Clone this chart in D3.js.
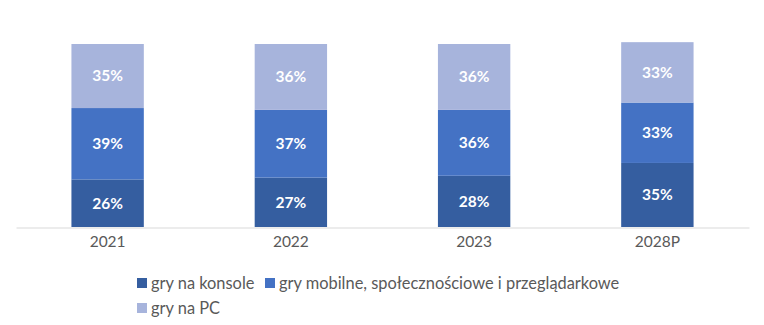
<!DOCTYPE html>
<html>
<head>
<meta charset="utf-8">
<script src="https://cdn.jsdelivr.net/npm/d3@7"></script>
<style>
  html, body { margin: 0; padding: 0; background: #fff; }
  svg { display: block; }
</style>
</head>
<body>
<svg id="chart" width="764" height="325"></svg>
<script>
// Market share by segment (%)
const years = ["2021", "2022", "2023", "2028P"];
const consoleShare = [26, 27, 28, 35];
const mobileShare = [39, 37, 36, 33];
const pcShare = [35, 36, 36, 33];
const seriesNames = ["gry na konsole", "gry mobilne, społecznościowe i przeglądarkowe", "gry na PC"];
const seriesColors = ["#355EA0", "#4472C4", "#A7B4DC"];

const svg = d3.select("#chart");
const font = "Lato, 'Open Sans', sans-serif";

const x = d3.scaleBand()
  .domain(years)
  .range([16, 749])
  .paddingInner(0.605)
  .paddingOuter(0.3025);

const y = d3.scaleLinear().domain([0, 100]).range([227, 44]);

const rows = years.map((yr, i) => ({ year: yr, s0: consoleShare[i], s1: mobileShare[i], s2: pcShare[i] }));
const stack = d3.stack().keys(["s0", "s1", "s2"]);
const layers = stack(rows);

const g = svg.append("g");
layers.forEach((layer, li) => {
  const lg = g.append("g");
  lg.selectAll("rect").data(layer).join("rect")
    .attr("x", d => x(d.data.year))
    .attr("width", x.bandwidth())
    .attr("y", d => y(d[1]))
    .attr("height", d => y(d[0]) - y(d[1]))
    .attr("fill", seriesColors[li]);
  lg.selectAll("text").data(layer).join("text")
    .attr("x", d => x(d.data.year) + x.bandwidth() / 2)
    .attr("y", d => (y(d[0]) + y(d[1])) / 2)
    .attr("dy", "0.35em")
    .attr("text-anchor", "middle")
    .attr("fill", "#fff")
    .attr("font-family", font)
    .attr("font-weight", "bold")
    .attr("font-size", 15.5)
    .text(d => (d[1] - d[0]) + "%");
});

// Category axis
const axis = svg.append("g")
  .attr("transform", "translate(0,227.5)")
  .call(d3.axisBottom(x).tickSize(0).tickPadding(8));
axis.select(".domain").attr("stroke", "#D9D9D9").attr("stroke-width", 1);
axis.selectAll("text")
  .attr("font-family", font)
  .attr("font-size", 15.5)
  .attr("fill", "#595959");

// Legend
const legendItems = [
  { name: seriesNames[0], color: seriesColors[0], x: 137, y: 283 },
  { name: seriesNames[1], color: seriesColors[1], x: 265, y: 283 },
  { name: seriesNames[2], color: seriesColors[2], x: 137, y: 308 }
];
const legend = svg.append("g");
legendItems.forEach(it => {
  legend.append("rect")
    .attr("x", it.x).attr("y", it.y - 5)
    .attr("width", 10).attr("height", 10)
    .attr("fill", it.color);
  legend.append("text")
    .attr("x", it.x + 14).attr("y", it.y)
    .attr("dy", "0.35em")
    .attr("font-family", font)
    .attr("font-size", 16.4)
    .attr("fill", "#595959")
    .text(it.name);
});
</script>
</body>
</html>
